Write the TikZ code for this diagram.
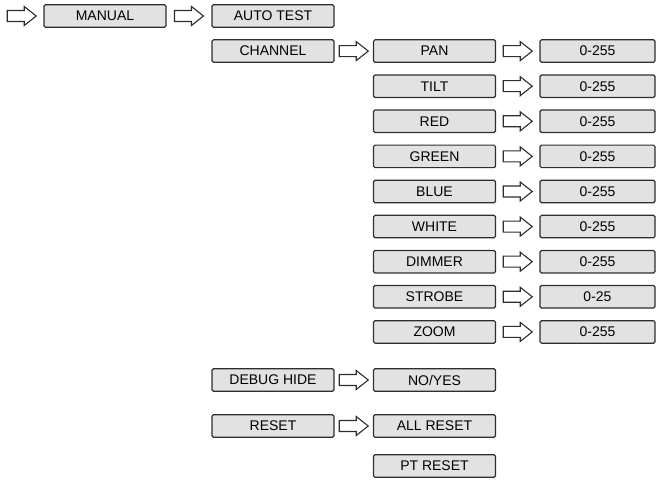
\documentclass[tikz,border=0pt]{standalone}
\usepackage{fontspec}
\setmainfont{Liberation Sans}
\usetikzlibrary{calc}
\definecolor{boxfill}{HTML}{E2E2E2}
\definecolor{boxline}{HTML}{2E2E2E}
\tikzset{
  menubox/.style={draw=boxline, fill=boxfill, line width=1.2pt, rounded corners=1.5pt,
    minimum height=22.5pt, inner sep=0pt, font=\fontsize{14}{16}\selectfont, anchor=center},
  widebox/.style={menubox, minimum width=122pt},
  valbox/.style={menubox, minimum width=115pt},
  hollowarrow/.style={draw=boxline, fill=white, line width=1.1pt, line join=miter},
}
\newcommand{\harrow}[2]{%
  \path ($(#1)!0.5!(#2)$) coordinate (am);
  \draw[hollowarrow] ($(am)+(-14.5,-5.5)$) -- ++(17,0) -- ++(0,-4) -- ++(12,9.5)
    -- ++(-12,9.5) -- ++(0,-4) -- ++(-17,0) -- cycle;}
\begin{document}
\begin{tikzpicture}[x=1pt,y=-1pt]
\useasboundingbox (0,0) rectangle (665,484);
\coordinate (start) at (0,16);
\node[widebox] (manual) at (105,16) {MANUAL};
\node[widebox] (auto) at (273,16) {AUTO TEST};
\node[widebox] (channel) at (273,51.1) {CHANNEL};
\foreach \n/\t/\v [count=\k from 1] in {pan/PAN/0-255, tilt/TILT/0-255, red/RED/0-255,
   green/GREEN/0-255, blue/BLUE/0-255, white/WHITE/0-255, dimmer/DIMMER/0-255,
   strobe/STROBE/0-25, zoom/ZOOM/0-255}{
  \node[widebox] (\n) at (434.5,{16+35.1*\k}) {\t};
  \node[valbox] (\n v) at (597.5,{16+35.1*\k}) {\v};
  \harrow{\n.east}{\n v.west}
}
\node[widebox] (debug) at (273,380) {DEBUG HIDE};
\node[widebox] (noyes) at (434.5,380) {NO/YES};
\node[widebox] (reset) at (273,426) {RESET};
\node[widebox] (allreset) at (434.5,426) {ALL RESET};
\node[widebox] (ptreset) at (434.5,466) {PT RESET};
\harrow{start}{manual.west}
\harrow{manual.east}{auto.west}
\harrow{channel.east}{pan.west}
\harrow{debug.east}{noyes.west}
\harrow{reset.east}{allreset.west}
\end{tikzpicture}
\end{document}
